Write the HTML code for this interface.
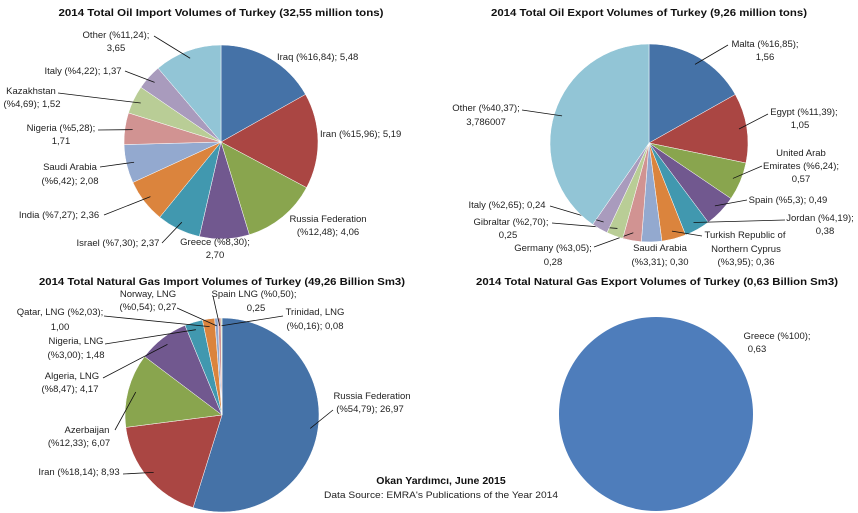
<!DOCTYPE html>
<html><head><meta charset="utf-8">
<style>
html,body{margin:0;padding:0;background:#fff;}
svg{display:block;font-family:"Liberation Sans",sans-serif;}
.t{font-size:9.5px;fill:#222;}
.h{font-size:10.5px;font-weight:bold;fill:#111;}
.ld{stroke:#111;stroke-width:0.8;fill:none;}
</style></head>
<body>
<svg id="c" width="858" height="513" viewBox="0 0 858 513" xmlns="http://www.w3.org/2000/svg">
<text class="h" x="221" y="16" text-anchor="middle" textLength="325" lengthAdjust="spacingAndGlyphs">2014 Total Oil Import Volumes of Turkey (32,55 million tons)</text>
<text class="h" x="649" y="16" text-anchor="middle" textLength="316" lengthAdjust="spacingAndGlyphs">2014 Total Oil Export Volumes of Turkey (9,26 million tons)</text>
<text class="h" x="222" y="285" text-anchor="middle" textLength="366" lengthAdjust="spacingAndGlyphs">2014 Total Natural Gas Import Volumes of Turkey (49,26 Billion Sm3)</text>
<text class="h" x="657" y="285" text-anchor="middle" textLength="362" lengthAdjust="spacingAndGlyphs">2014 Total Natural Gas Export Volumes of Turkey (0,63 Billion Sm3)</text>
<text class="h" x="441" y="484" text-anchor="middle" font-size="9.5">Okan Yardımcı, June 2015</text>
<text class="t" x="441" y="498" text-anchor="middle" textLength="234" lengthAdjust="spacingAndGlyphs">Data Source: EMRA's Publications of the Year 2014</text>
</svg>
<script>
const NS='http://www.w3.org/2000/svg';
const svg=document.getElementById('c');
const palette=['#4572A7','#AA4643','#89A54E','#71588F','#4198AF','#DB843D','#93A9CF','#D19392','#B9CD96','#A99BBD','#92C5D6'];

// Oil import
const oilImpCats=['Iraq','Iran','Russia Federation','Greece','Israel','India','Saudi Arabia','Nigeria','Kazakhstan','Italy','Other'];
const oilImpPct=[16.84,15.96,12.48,8.30,7.30,7.27,6.42,5.28,4.69,4.22,11.24];
const oilImpPctText=['16,84','15,96','12,48','8,30','7,30','7,27','6,42','5,28','4,69','4,22','11,24'];
const oilImpVal=['5,48','5,19','4,06','2,70','2,37','2,36','2,08','1,71','1,52','1,37','3,65'];
// Oil export
const oilExpCats=['Malta','Egypt','United Arab Emirates','Spain','Jordan','Turkish Republic of Northern Cyprus','Saudi Arabia','Germany','Gibraltar','Italy','Other'];
const oilExpPct=[16.85,11.39,6.24,5.3,4.19,3.95,3.31,3.05,2.70,2.65,40.37];
const oilExpPctText=['16,85','11,39','6,24','5,3','4,19','3,95','3,31','3,05','2,70','2,65','40,37'];
const oilExpVal=['1,56','1,05','0,57','0,49','0,38','0,36','0,30','0,28','0,25','0,24','3,786007'];
// Gas import
const gasImpCats=['Russia Federation','Iran','Azerbaijan','Algeria, LNG','Nigeria, LNG','Qatar, LNG','Norway, LNG','Spain LNG','Trinidad, LNG'];
const gasImpPct=[54.79,18.14,12.33,8.47,3.00,2.03,0.54,0.50,0.16];
const gasImpPctText=['54,79','18,14','12,33','8,47','3,00','2,03','0,54','0,50','0,16'];
const gasImpVal=['26,97','8,93','6,07','4,17','1,48','1,00','0,27','0,25','0,08'];
// Gas export
const gasExpCats=['Greece'];
const gasExpPct=[100];
const gasExpPctText=['100'];
const gasExpVal=['0,63'];

const L1=[
 {l:[[277,60,'start',0]],a:null},
 {l:[[320,137,'start',1]],a:null},
 {l:[[328,222,'middle',2],[328,235,'middle',3]],a:null},
 {l:[[215,245,'middle',4],[215,258,'middle',5]],a:null},
 {l:[[118,246,'middle',6]],a:[162,243]},
 {l:[[59,218,'middle',6]],a:[104,215]},
 {l:[[70,170,'middle',2],[70,184,'middle',3]],a:[100,167]},
 {l:[[61,131,'middle',4],[61,144,'middle',5]],a:[98,130]},
 {l:[[31,94,'middle',2],[32,107,'middle',3]],a:[58,93]},
 {l:[[83,74,'middle',6]],a:[125,71]},
 {l:[[116,38,'middle',4],[116,51,'middle',5]],a:[154,36]}
];
const L2=[
 {l:[[765,47,'middle',4],[765,60,'middle',5]],a:[728,45]},
 {l:[[804,115,'middle',4],[800,128,'middle',5]],a:[768,114]},
 {l:[[801,156,'middle',7],[801,169,'middle',8],[801,182,'middle',5]],a:[762,166]},
 {l:[[788,203,'middle',6]],a:[747,200]},
 {l:[[820,221,'middle',4],[825,234,'middle',5]],a:[785,220]},
 {l:[[745,238,'middle',9],[746,252,'middle',10],[746,265,'middle',3]],a:[702,236]},
 {l:[[660,251,'middle',2],[660,265,'middle',3]],a:null},
 {l:[[553,251,'middle',4],[553,265,'middle',5]],a:[594,247]},
 {l:[[511,225,'middle',4],[508,238,'middle',5]],a:[552,223]},
 {l:[[507,208,'middle',6]],a:[550,206]},
 {l:[[486,111,'middle',4],[486,125,'middle',5]],a:[522,110]}
];
const L3=[
 {l:[[372,399,'middle',2],[370,412,'middle',3]],a:[333,410]},
 {l:[[79,475,'middle',6]],a:[123,474]},
 {l:[[87,433,'middle',2],[79,446,'middle',3]],a:[115,430]},
 {l:[[72,379,'middle',2],[70,392,'middle',3]],a:[103,378]},
 {l:[[76,344,'middle',2],[76,358,'middle',3]],a:[105,344]},
 {l:[[60,315,'middle',4],[60,330,'middle',5]],a:[104,316]},
 {l:[[148,297,'middle',2],[148,310,'middle',3]],a:[177,308]},
 {l:[[254,297,'middle',4],[256,311,'middle',5]],a:[213,296]},
 {l:[[315,315,'middle',2],[315,329,'middle',3]],a:[283,316]}
];
const L4=[{l:[[777,339,'middle',4],[757,352,'middle',5]],a:null}];

function lineText(cat,p,v,kind){
 const pc='%'+p;
 const full=cat+' ('+pc+'); '+v;
 switch(kind){
  case 0:case 1:case 6:return full;
  case 2:return cat;
  case 3:return '('+pc+'); '+v;
  case 4:return cat+' ('+pc+');';
  case 5:return v;
  case 7:return 'United Arab';
  case 8:return 'Emirates ('+pc+');';
  case 9:return 'Turkish Republic of';
  case 10:return 'Northern Cyprus';
 }
}

function drawPie(id,cx,cy,r,cats,pcts,ptxt,vals,layout,colors){
 const g=document.createElementNS(NS,'g');
 
 
 svg.appendChild(g);
 const total=pcts.reduce((a,b)=>a+b,0);
 let ang=0;
 cats.forEach((c,i)=>{
  const a0=ang, a1=ang+pcts[i]/total*2*Math.PI; ang=a1;
  const x0=cx+r*Math.sin(a0),y0=cy-r*Math.cos(a0),x1=cx+r*Math.sin(a1),y1=cy-r*Math.cos(a1);
  let el;
  if(pcts[i]>=total-1e-9){
   el=document.createElementNS(NS,'circle');
   el.setAttribute('cx',cx);el.setAttribute('cy',cy);el.setAttribute('r',r);
  } else {
   el=document.createElementNS(NS,'path');
   const large=(a1-a0)>Math.PI?1:0;
   el.setAttribute('d',`M${cx},${cy}L${x0},${y0}A${r},${r} 0 ${large} 1 ${x1},${y1}Z`);
   el.setAttribute('stroke','#fff');el.setAttribute('stroke-width','0.5');
  }
  el.setAttribute('fill',colors[i%colors.length]);
  
  
  g.appendChild(el);
  const lay=layout[i];
  if(lay.a){
   const m=(a0+a1)/2, px=cx+r*0.92*Math.sin(m), py=cy-r*0.92*Math.cos(m);
   const ln=document.createElementNS(NS,'polyline');
   ln.setAttribute('class','ld');
   ln.setAttribute('points',`${lay.a[0]},${lay.a[1]} ${px},${py}`);
   
   
   g.appendChild(ln);
  }
  lay.l.forEach(t=>{
   const tx=document.createElementNS(NS,'text');
   tx.setAttribute('class','t');
   tx.setAttribute('x',t[0]);tx.setAttribute('y',t[1]);
   tx.setAttribute('text-anchor',t[2]);
   tx.textContent=lineText(c,ptxt[i],vals[i],t[3]);
   
   
   g.appendChild(tx);
  });
 });
}
drawPie('oil-import-pie',221,142,97,oilImpCats,oilImpPct,oilImpPctText,oilImpVal,L1,palette);
drawPie('oil-export-pie',649,143,99,oilExpCats,oilExpPct,oilExpPctText,oilExpVal,L2,palette);
drawPie('gas-import-pie',222,415,97,gasImpCats,gasImpPct,gasImpPctText,gasImpVal,L3,palette);
drawPie('gas-export-pie',656,414,97,gasExpCats,gasExpPct,gasExpPctText,gasExpVal,L4,['#4E7DBB']);
</script>
</body></html>
